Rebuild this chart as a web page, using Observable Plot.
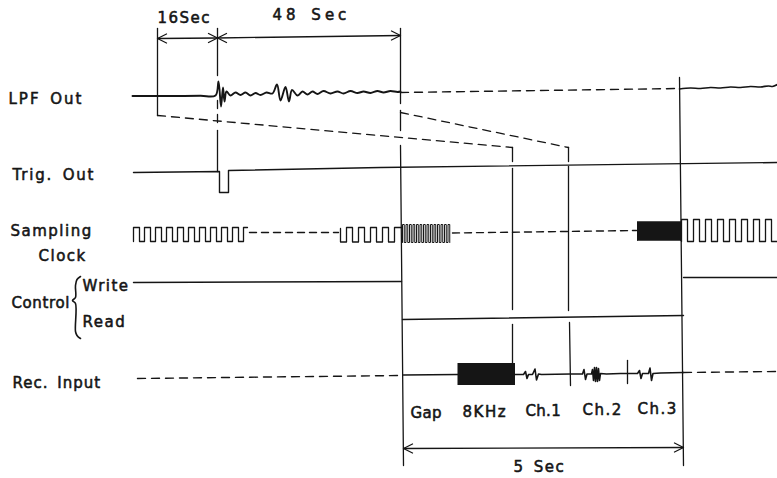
<!DOCTYPE html>
<html><head><meta charset="utf-8">
<script src="https://cdn.jsdelivr.net/npm/d3@7"></script>
<script src="https://cdn.jsdelivr.net/npm/@observablehq/plot@0.6"></script>
<style>
body{margin:0;background:#fff}
#chart svg text{letter-spacing:1.5px;word-spacing:3px}
</style>
</head><body><div id="chart"></div>
<script>
// ---- Timing diagram data (time in diagram units, level in diagram units, downward) ----
const rowNames = ["LPF Out", "Trig. Out", "Sampling", "Clock", "Write", "Control", "Read", "Rec. Input"];
const rowNameT = [8, 12, 10, 38, 82, 11, 82, 12];
const rowNameV = [99, 175, 231, 256, 286, 303, 322, 383];

const spanNames = ["16Sec", "48 Sec", "5 Sec"];
const spanNameT = [157, 272, 513];
const spanNameV = [17.5, 15, 467];

const segNames = ["Gap", "8KHz", "Ch.1", "Ch.2", "Ch.3"];
const segNameT = [410, 462, 525, 582, 637];
const segNameV = [413, 412, 411, 410, 409];

// dimension spans (start, end) and their levels
const spanT1 = [157, 217, 403], spanT2 = [217, 400, 683];
const spanV1 = [38, 37.5, 448], spanV2 = [37.5, 35, 447];

// LPF output waveform (event recording)
const lpfT = [132, 150, 175, 200, 215, 218, 220.5, 222.5, 224, 226, 230, 235, 240, 245, 250, 255, 260, 266, 272, 276.5, 280, 285, 288.5, 291.5, 297, 302, 307, 312, 317, 323, 330, 337, 343, 350, 357, 363, 370, 377, 383, 390, 397, 400];
const lpfV = [95.5, 95.5, 95.5, 95.3, 95, 81, 106, 87, 101, 91, 95, 92, 94.5, 92, 95, 92.5, 94.5, 92, 93, 84, 100, 86.5, 101, 89.5, 95, 91, 94, 91, 93.5, 90.5, 93, 91, 93, 90.5, 92.5, 91, 92.5, 90.5, 92, 90.5, 91.5, 91];
const lpf2T = [679, 690, 700, 710, 720, 730, 740, 750, 760, 768, 772, 777];
const lpf2V = [88.5, 87.5, 88, 87, 87.5, 86.5, 87, 86, 86.5, 85.5, 86, 84];
const lpfGapT = [400, 679];
const lpfGapV = [92, 88];

// Trigger output
const trigT = [133, 219, 219, 228, 228, 380, 777];
const trigV = [172, 171, 192, 192, 170, 167, 162];

// Sampling clock: rising-edge times for each burst
const clkA = [133, 144, 155, 166, 177, 188, 199, 210, 221, 232];
const clkB = [346, 358, 370, 382];
const clkC = [402, 405.5, 409, 412.5, 416, 419.5, 423, 426.5, 430, 433.5, 437, 440.5, 444, 447.5];
const clkD = [637, 639, 641, 643, 645, 647, 649, 651, 653, 655, 657, 659, 661, 663, 665, 667, 669, 671, 673, 675, 677, 679];
const clkE = [681, 693, 705, 717, 729, 741, 753, 765];
const clkGap1T = [249, 338], clkGap1V = [232, 232];
const clkGap2T = [452, 636], clkGap2V = [232.5, 230];

// Control: write / read
const writeT = [133, 401], writeV = [282, 281];
const write2T = [683, 777], write2V = [277, 277];
const readT = [402, 683], readV = [319, 315];

// Recorder input
const recDashT = [137, 401], recDashV = [378, 375];
const recDash2T = [683, 777], recDash2V = [372, 371];
const recT = [403, 458, 515, 523, 525, 526.5, 528, 532, 534.5, 536, 538, 541, 570, 582, 583.5, 585, 586.5, 591, 592, 593, 594, 595, 596, 597, 598, 599, 600, 606, 620, 637, 639, 640.5, 642, 648, 649.5, 651, 652.5, 660, 683];
const recV = [374.5, 374, 374, 374, 371, 378, 374, 374, 368.5, 379.5, 373.5, 374, 373.5, 373.5, 369, 379, 373.5, 373.5, 369, 380, 367, 381, 367, 381, 368, 380, 373, 373.5, 373, 373, 370, 378, 373, 373, 367.5, 380, 373, 372.5, 372];
const toneT1 = [457.5], toneT2 = [515], toneV1 = [363], toneV2 = [385];

// ---- helpers ----
const zip = (ts, vs, id) => ts.map((t, i) => ({t, v: vs[i], id}));
function clock(edges, width, hi, lo, id) {
  const pts = [];
  edges.forEach(e => {
    pts.push({t: e, v: lo, id}, {t: e, v: hi, id}, {t: e + width, v: hi, id}, {t: e + width, v: lo, id});
  });
  return pts;
}
const clockSlow = [
  ...clock(clkA, 6, 227, 241, "a"),
  {t: 243, v: 241, id: "a"}, {t: 243, v: 227, id: "a"}, {t: 247, v: 227, id: "a"},
  {t: 340, v: 228, id: "b"}, {t: 340, v: 241.5, id: "b"},
  ...clock(clkB, 6, 227, 241.5, "b"),
  {t: 394, v: 241.5, id: "b"}, {t: 394, v: 227, id: "b"}, {t: 401, v: 227, id: "b"},
  ...clock(clkE, 6, 219, 241, "e"), {t: 777, v: 241, id: "e"}
];
const clockFast = [...clock(clkC, 1.75, 224, 242, "c"), ...clock(clkD, 1, 221, 240, "d")];

// arrow heads at both ends of each span
const heads = [];
spanT1.forEach((t1, i) => {
  const t2 = spanT2[i], v1 = spanV1[i], v2 = spanV2[i];
  heads.push({t: t1 + 9, v: v1 - 4.5, id: "s" + i}, {t: t1, v: v1, id: "s" + i}, {t: t1 + 9, v: v1 + 4.5, id: "s" + i});
  heads.push({t: t2 - 9, v: v2 - 4.5, id: "e" + i}, {t: t2, v: v2, id: "e" + i}, {t: t2 - 9, v: v2 + 4.5, id: "e" + i});
});

const ink = "#151515";
const dash = "8,6";
const font = "DejaVu Sans, Liberation Sans, sans-serif";

// Guide lines (vertical markers), as time/level pairs
const guideSolid = [
  ...zip([157, 157], [28, 115], "g1"),
  ...zip([217, 217], [28, 75], "g2"),
  ...zip([217, 217], [130, 171], "g3"),
  ...zip([400, 400], [28, 103], "g4"),
  ...zip([400, 400], [110, 130], "g5"),
  ...zip([400, 403], [145, 465], "g6"),
  ...zip([679, 683], [77, 465], "g7"),
  ...zip([512, 512], [147, 161], "g8"),
  ...zip([512, 512], [168, 309], "g9"),
  ...zip([512, 512], [324, 383], "g10"),
  ...zip([568, 568], [147, 161], "g11"),
  ...zip([568, 568], [166, 310], "g12"),
  ...zip([569, 570], [322, 385], "g13"),
  ...zip([627, 627], [360, 383], "g14")
];
const guideDash = [
  ...zip([157, 512], [115, 147], "d1"),
  ...zip([400, 568], [112, 147], "d2"),
  ...zip([217, 217], [100, 128], "d3")
];

const textOpts = {textAnchor: "start", fontSize: 15, fill: ink, stroke: ink, strokeWidth: 0.55};

const chart = Plot.plot({
  width: 777, height: 478, margin: 0,
  x: {domain: [0, 777], range: [0, 777], axis: null},
  y: {domain: [0, 478], range: [0, 478], axis: null},
  style: {background: "#fff", fontFamily: font},
  marks: [
    // dimension arrows
    Plot.link(spanT1.map((t, i) => ({t1: t, t2: spanT2[i], v1: spanV1[i], v2: spanV2[i]})),
      {x1: "t1", y1: "v1", x2: "t2", y2: "v2", stroke: ink, strokeWidth: 1.3}),
    Plot.line(heads, {x: "t", y: "v", z: "id", stroke: ink, strokeWidth: 1.3}),
    // guides
    Plot.line(guideSolid, {x: "t", y: "v", z: "id", stroke: ink, strokeWidth: 1.3}),
    Plot.line(guideDash, {x: "t", y: "v", z: "id", stroke: ink, strokeWidth: 1.3, strokeDasharray: dash}),
    // LPF
    Plot.line(zip(lpfT, lpfV, "l"), {x: "t", y: "v", stroke: ink, strokeWidth: 1.9, curve: "catmull-rom"}),
    Plot.line(zip(lpf2T, lpf2V, "l2"), {x: "t", y: "v", stroke: ink, strokeWidth: 1.7, curve: "catmull-rom"}),
    Plot.line(zip(lpfGapT, lpfGapV, "lg"), {x: "t", y: "v", stroke: ink, strokeWidth: 1.4, strokeDasharray: dash}),
    // Trigger
    Plot.line(zip(trigT, trigV, "tr"), {x: "t", y: "v", stroke: ink, strokeWidth: 1.4}),
    // Clock
    Plot.line(clockSlow, {x: "t", y: "v", z: "id", stroke: ink, strokeWidth: 1.3}),
    Plot.line(clockFast, {x: "t", y: "v", z: "id", stroke: ink, strokeWidth: 1}),
    Plot.line([...zip(clkGap1T, clkGap1V, "c1"), ...zip(clkGap2T, clkGap2V, "c2")], {x: "t", y: "v", z: "id", stroke: ink, strokeWidth: 1.4, strokeDasharray: "7,5"}),
    // Control
    Plot.line([...zip(writeT, writeV, "w1"), ...zip(write2T, write2V, "w2"), ...zip(readT, readV, "r")], {x: "t", y: "v", z: "id", stroke: ink, strokeWidth: 1.4}),
    // brace
    Plot.line(zip([80, 76.5, 75, 75, 72, 75, 75, 76.5, 80], [276, 279, 285, 297, 300, 303, 331, 335, 338], "br"), {x: "t", y: "v", stroke: ink, strokeWidth: 1.6, curve: "catmull-rom"}),
    // Recorder input
    Plot.line([...zip(recDashT, recDashV, "rd1"), ...zip(recDash2T, recDash2V, "rd2")], {x: "t", y: "v", z: "id", stroke: ink, strokeWidth: 1.4, strokeDasharray: dash}),
    Plot.line(zip(recT, recV, "rec"), {x: "t", y: "v", stroke: ink, strokeWidth: 1.6}),
    Plot.rect(toneT1.map((t, i) => ({t1: t, t2: toneT2[i], v1: toneV1[i], v2: toneV2[i]})), {x1: "t1", x2: "t2", y1: "v1", y2: "v2", fill: ink}),
    // labels
    Plot.text(rowNames, {x: (d, i) => rowNameT[i], y: (d, i) => rowNameV[i], text: d => d, ...textOpts}),
    Plot.text(spanNames, {x: (d, i) => spanNameT[i], y: (d, i) => spanNameV[i], text: d => d, ...textOpts}),
    Plot.text(segNames, {x: (d, i) => segNameT[i], y: (d, i) => segNameV[i], text: d => d, ...textOpts})
  ]
});
// per-label spacing tweaks to match the hand lettering
const spacing = {"48 Sec": "4px", "5 Sec": "1.5px", "Gap": "0.3px", "Ch.1": "0.3px", "Control": "0.6px", "LPF Out": "2px", "Trig. Out": "1.8px", "Rec. Input": "1px"};
d3.select(chart).selectAll("text").each(function() {
  const s = spacing[this.textContent];
  if (s) this.style.letterSpacing = s;
});
document.getElementById("chart").appendChild(chart);
</script>
</body></html>
